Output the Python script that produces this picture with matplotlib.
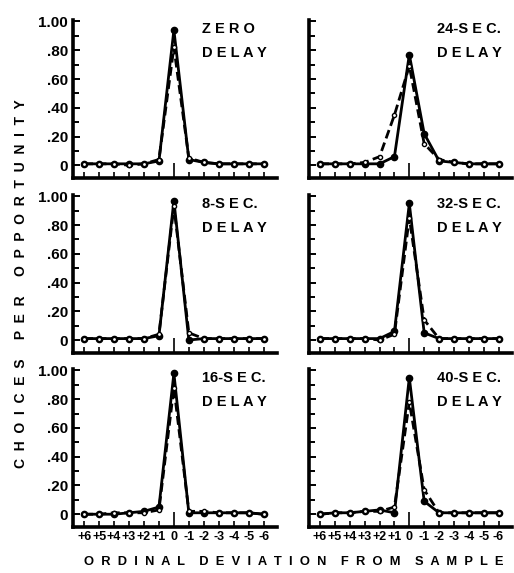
# Delayed matching: choices per opportunity by ordinal deviation from sample
import numpy as np
import matplotlib
matplotlib.use("Agg")
import matplotlib.pyplot as plt

plt.rcParams['font.family'] = ['Liberation Sans', 'DejaVu Sans']
plt.rcParams['font.weight'] = 'bold'

# ------------------------------------------------------------
# data, x = ordinal position left to right
# ------------------------------------------------------------
deviation = np.arange(-6, 7)
tick_labels = ['+6', '+5', '+4', '+3', '+2', '+1', '0',
               '-1', '-2', '-3', '-4', '-5', '-6']

zero_solid = [0.01, 0.01, 0.01, 0.01, 0.01, 0.03, 0.94, 0.04, 0.02, 0.01, 0.01, 0.01, 0.01]
zero_dash = [0.01, 0.01, 0.01, 0.00, 0.01, 0.04, 0.82, 0.05, 0.02, 0.01, 0.01, 0.01, 0.01]

s24_solid = [0.01, 0.01, 0.01, 0.01, 0.01, 0.06, 0.77, 0.22, 0.03, 0.02, 0.01, 0.01, 0.01]
s24_dash = [0.01, 0.01, 0.01, 0.02, 0.06, 0.35, 0.69, 0.15, 0.04, 0.02, 0.01, 0.01, 0.01]

s8_solid = [0.01, 0.01, 0.01, 0.01, 0.01, 0.03, 0.97, 0.00, 0.01, 0.01, 0.01, 0.01, 0.01]
s8_dash = [0.01, 0.01, 0.01, 0.01, 0.01, 0.04, 0.93, 0.05, 0.01, 0.01, 0.01, 0.01, 0.01]

s32_solid = [0.01, 0.01, 0.01, 0.01, 0.01, 0.06, 0.95, 0.05, 0.01, 0.01, 0.01, 0.01, 0.01]
s32_dash = [0.01, 0.01, 0.01, 0.01, 0.00, 0.04, 0.85, 0.14, 0.01, 0.01, 0.01, 0.01, 0.01]

s16_solid = [0.00, 0.00, 0.00, 0.01, 0.02, 0.05, 0.98, 0.01, 0.01, 0.01, 0.01, 0.01, 0.00]
s16_dash = [0.00, 0.00, 0.01, 0.01, 0.01, 0.03, 0.88, 0.02, 0.02, 0.01, 0.01, 0.01, 0.00]

s40_solid = [0.00, 0.01, 0.01, 0.02, 0.03, 0.01, 0.95, 0.09, 0.01, 0.01, 0.01, 0.01, 0.01]
s40_dash = [0.00, 0.01, 0.01, 0.02, 0.02, 0.05, 0.78, 0.17, 0.01, 0.01, 0.01, 0.01, 0.01]

panels = [
    ('Z E R O', zero_solid, zero_dash),
    ('24-S E C.', s24_solid, s24_dash),
    ('8-S E C.', s8_solid, s8_dash),
    ('32-S E C.', s32_solid, s32_dash),
    ('16-S E C.', s16_solid, s16_dash),
    ('40-S E C.', s40_solid, s40_dash),
]

# ------------------------------------------------------------
# layout
# ------------------------------------------------------------
fig = plt.figure(figsize=(5.14, 5.73), dpi=100)
col_left = [0.142, 0.601]
col_width = [0.397, 0.395]
row_bottom = [0.689, 0.384, 0.080]
row_height = 0.276

for i, (title, solid, dash) in enumerate(panels):
    row, col = divmod(i, 2)
    ax = fig.add_axes([col_left[col], row_bottom[row], col_width[col], row_height])

    ax.plot(deviation, solid, color='black', lw=2.0, ls='-',
            marker='o', ms=4.5, mfc='black', mec='black', zorder=3)
    ax.plot(deviation, dash, color='black', lw=2.0, ls=(0, (3.2, 1.6)),
            marker='o', ms=3, mfc='white', mec='black', mew=1.0, zorder=4)

    ax.set_xlim(-6.75, 6.9)
    ax.set_ylim(-0.09, 1.01)

    for side in ['top', 'right']:
        ax.spines[side].set_visible(False)
    ax.spines['left'].set_linewidth(2.6)
    ax.spines['bottom'].set_linewidth(2.6)

    ax.set_yticks([0, 0.2, 0.4, 0.6, 0.8, 1.0])
    ax.set_yticks(np.arange(0.1, 1.0, 0.2), minor=True)
    ax.tick_params(axis='y', which='both', direction='in', length=4, width=1.4)
    ax.tick_params(axis='y', which='major', length=5)
    ax.set_xticks(deviation)
    ax.tick_params(axis='x', direction='in', length=4, width=1.2, pad=3)
    # taller tick at the sample position
    ax.xaxis.get_major_ticks()[6].tick1line.set_markersize(11)

    if col == 0:
        ax.set_yticklabels(['0', '.20', '.40', '.60', '.80', '1.00'],
                           fontsize=11, fontweight='bold')
    else:
        ax.set_yticklabels([])
    if row == 2:
        ax.set_xticklabels(tick_labels, fontsize=9, fontweight='bold')
    else:
        ax.set_xticklabels([])

    ax.text(0.63, 0.945, title, transform=ax.transAxes, fontsize=10.5,
            fontweight='bold', ha='left', va='center')
    ax.text(0.63, 0.79, 'D E L A Y', transform=ax.transAxes, fontsize=10.5,
            fontweight='bold', ha='left', va='center')

fig.text(0.04, 0.505, 'C  H  O  I  C  E  S     P  E  R     O  P  P  O  R  T  U  N  I  T  Y',
         rotation=90, fontsize=10, fontweight='bold', ha='center', va='center')
fig.text(0.572, 0.02, 'O  R  D  I  N  A  L    D  E  V  I  A  T  I  O  N    F  R  O  M    S  A  M  P  L  E',
         fontsize=9.3, fontweight='bold', ha='center', va='center')

fig.savefig('out.png', dpi=100, facecolor='white')
